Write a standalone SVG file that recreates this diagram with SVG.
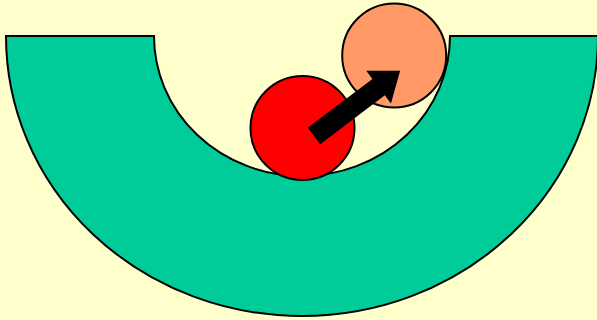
<svg xmlns="http://www.w3.org/2000/svg" width="597" height="320" viewBox="0 0 597 320">
  <style>
    .edge { stroke: #000; stroke-width: 2; }
  </style>
  <rect x="0" y="0" width="597" height="320" fill="#FFFFCC"/>
  <path class="edge" fill="#00CC99" d="M6,36 A296,280 0 0 0 598,36 L450,36 A148,140 0 0 1 154,36 Z"/>
  <circle class="edge" cx="302.5" cy="128" r="52" fill="#FF0000"/>
  <circle class="edge" cx="394.2" cy="55.5" r="52" fill="#FF9966"/>
  <polygon fill="#000" transform="translate(314,136) rotate(-37.1)" points="0,-10.3 81,-10.3 81,-20.5 108,0 81,20.5 81,10.3 0,10.3"/>
</svg>
